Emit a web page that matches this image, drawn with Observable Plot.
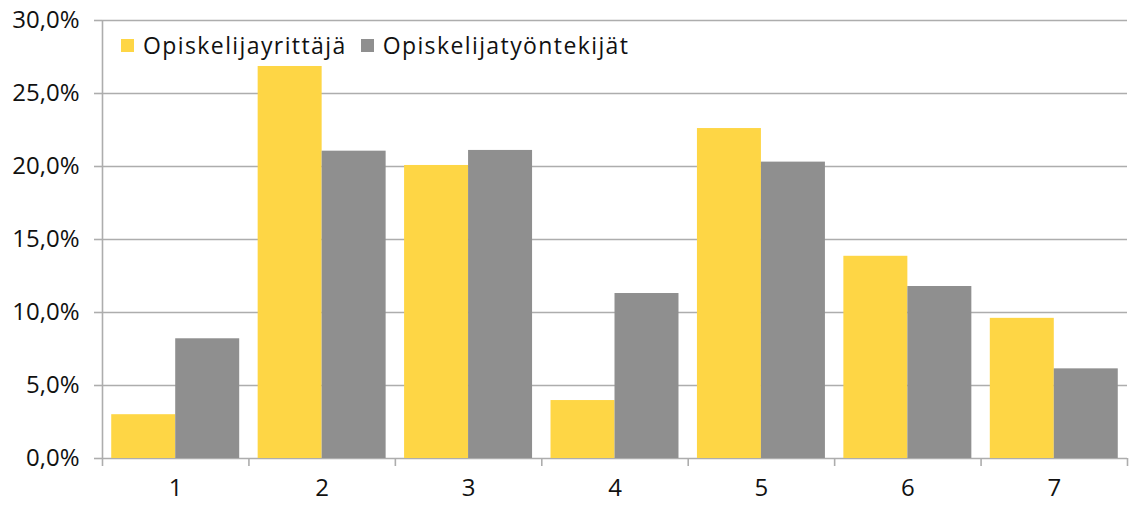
<!DOCTYPE html>
<html>
<head>
<meta charset="utf-8">
<script src="https://cdn.jsdelivr.net/npm/d3@7"></script>
<script src="https://cdn.jsdelivr.net/npm/@observablehq/plot@0.6"></script>
<style>
  html, body { margin: 0; padding: 0; background: #fff; }
  #wrap { position: relative; width: 1129px; height: 506px; font-family: "Open Sans", sans-serif; }
  #legend { position: absolute; left: 121px; top: 29px; display: flex; align-items: center; font-size: 23px; letter-spacing: 1.4px; color: #111; white-space: nowrap; }
  #legend .item { display: flex; align-items: center; margin-right: 14px; }
  #legend .sw { width: 13px; height: 13px; margin-right: 9px; }
</style>
</head>
<body>
<div id="wrap"><div id="legend"></div></div>
<script>
const categories = ["1", "2", "3", "4", "5", "6", "7"];
const seriesNames = ["Opiskelijayrittäjä", "Opiskelijatyöntekijät"];
const seriesColors = ["#FED645", "#8F8F8F"];
const yrittaja = [3.0, 26.85, 20.07, 3.97, 22.6, 13.85, 9.6];
const tyontekija = [8.2, 21.05, 21.1, 11.3, 20.3, 11.78, 6.14];
const yTicks = [0, 5, 10, 15, 20, 25, 30];

const rows = [];
categories.forEach((c, i) => {
  rows.push({cat: c, pos: i + 1, series: seriesNames[0], value: yrittaja[i], k: 0});
  rows.push({cat: c, pos: i + 1, series: seriesNames[1], value: tyontekija[i], k: 1});
});
const boundaries = d3.range(categories.length + 1).map(i => i + 0.5);
const gap = 0.063;
const gridColor = "#ADADAD";

const chart = Plot.plot({
  width: 1129,
  height: 506,
  marginLeft: 102,
  marginRight: 2,
  marginTop: 20,
  marginBottom: 48,
  style: {fontFamily: "Open Sans, sans-serif", fontSize: "24px", color: "#111", background: "#fff"},
  x: {domain: [0.5, categories.length + 0.5], axis: null},
  y: {domain: [0, 30], axis: null},
  marks: [
    Plot.ruleY(yTicks, {stroke: gridColor, strokeWidth: 1.6}),
    Plot.ruleX([0.5], {y1: 0, y2: 30, stroke: gridColor, strokeWidth: 1.6}),
    Plot.rectY(rows, {
      x1: d => d.k === 0 ? d.pos - 0.5 + gap : d.pos,
      x2: d => d.k === 0 ? d.pos : d.pos + 0.5 - gap,
      y1: 0,
      y2: "value",
      fill: d => seriesColors[d.k]
    }),
    Plot.axisY({ticks: yTicks, label: null, tickSize: 8, tickPadding: 15, stroke: gridColor, tickFormat: d => d.toFixed(1).replace(".", ",") + "%", fontSize: 24}),
    Plot.axisX({ticks: boundaries, label: null, tickSize: 8, tickFormat: () => "", stroke: gridColor}),
    Plot.axisX({ticks: categories.map((c, i) => i + 1), label: null, tickSize: 0, tickPadding: 20, tickFormat: d => categories[d - 1], fontSize: 24})
  ]
});
chart.querySelectorAll("g[aria-label='x-axis tick'] path, g[aria-label='y-axis tick'] path").forEach(p => p.setAttribute("stroke-width", "1.6"));
document.getElementById("wrap").prepend(chart);

const legend = document.getElementById("legend");
seriesNames.forEach((n, i) => {
  const it = document.createElement("div");
  it.className = "item";
  it.innerHTML = `<div class="sw" style="background:${seriesColors[i]}"></div><span>${n}</span>`;
  legend.appendChild(it);
});
</script>
</body>
</html>
